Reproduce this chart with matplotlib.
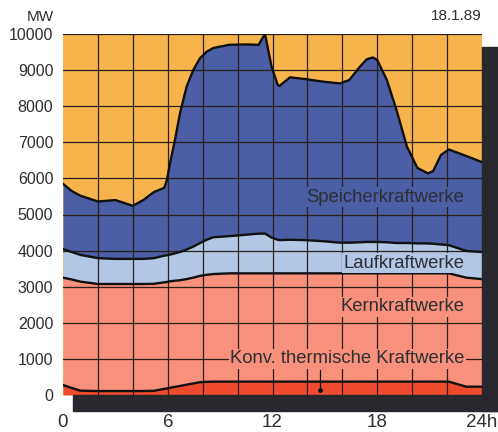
import numpy as np
import matplotlib.pyplot as plt
from matplotlib.patches import Rectangle

plt.rcParams['font.family'] = ['Liberation Sans', 'DejaVu Sans']

# hours of day
hours = [0, 0.5, 1, 2, 3, 4, 4.6, 5.2, 5.8, 5.95, 6.13, 6.41, 6.7, 7.08, 7.46, 7.85, 8.23, 8.6, 9.5, 10.5,
         11.2, 11.57, 11.95, 12.3, 12.4, 13, 13.9, 14.9, 15.85, 16.4, 17, 17.4,
         17.75, 18, 18.55, 19.1, 19.7, 20.3, 20.9, 21.2, 21.65, 22.1, 23.1, 24]

# cumulative upper edges in MW
konv_top = [277, 194, 120, 110, 110, 110, 110, 115, 170, 180, 200, 225, 250, 285, 320, 355, 365, 370, 370, 370,
            370, 370, 370, 370, 370, 370, 370, 370, 370, 370, 370, 370,
            370, 370, 370, 370, 370, 370, 370, 370, 370, 370, 230, 230]
kern_top = [3250, 3200, 3140, 3075, 3075, 3075, 3075, 3080, 3120, 3130, 3150, 3165, 3180, 3210, 3250, 3300, 3330, 3350, 3370, 3370,
            3370, 3370, 3370, 3370, 3370, 3370, 3370, 3370, 3370, 3370, 3370, 3370,
            3370, 3370, 3370, 3370, 3370, 3370, 3370, 3370, 3370, 3370, 3250, 3210]
lauf_top = [4045, 3960, 3880, 3790, 3770, 3770, 3770, 3790, 3860, 3870, 3890, 3925, 3960, 4030, 4110, 4210, 4300, 4370, 4400, 4440,
            4470, 4470, 4360, 4300, 4290, 4300, 4290, 4260, 4220, 4220, 4230, 4240,
            4240, 4240, 4230, 4210, 4210, 4200, 4200, 4190, 4170, 4150, 3990, 3960]
total = [5850, 5650, 5520, 5360, 5400, 5240, 5400, 5620, 5740, 5955, 6420, 7060, 7800, 8540, 9000, 9330, 9510, 9610, 9700, 9710,
         9700, 10000, 9090, 8590, 8560, 8800, 8750, 8680, 8630, 8725, 9090, 9300,
         9350, 9280, 8725, 7900, 6880, 6290, 6140, 6200, 6650, 6800, 6620, 6450]

x_ticks = [0, 6, 12, 18, 24]
x_labels = ['0', '6', '12', '18', '24h']
y_ticks = [0, 1000, 2000, 3000, 4000, 5000, 6000, 7000, 8000, 9000, 10000]

c_orange = '#f8b44c'
c_speicher = '#4b5ea6'
c_lauf = '#b3c7e5'
c_kern = '#f8917b'
c_konv = '#ee4a2e'
c_dark = '#27272d'
c_text = '#2e2e33'

fig = plt.figure(figsize=(4.98, 4.32), dpi=100)
ax = fig.add_axes([63 / 498, 1 - 395 / 432, 419 / 498, 361 / 432])

# shadow behind the chart
fig.patches.append(Rectangle((482 / 498, 1 - 411 / 432), 16 / 498, 364 / 432,
                             transform=fig.transFigure, color=c_dark, zorder=0))
fig.patches.append(Rectangle((73 / 498, 1 - 411 / 432), 425 / 498, 16 / 432,
                             transform=fig.transFigure, color=c_dark, zorder=0))

ax.set_facecolor(c_orange)
zero = np.zeros(len(hours))
ax.fill_between(hours, zero, konv_top, color=c_konv, lw=0, zorder=1)
ax.fill_between(hours, konv_top, kern_top, color=c_kern, lw=0, zorder=1)
ax.fill_between(hours, kern_top, lauf_top, color=c_lauf, lw=0, zorder=1)
ax.fill_between(hours, lauf_top, total, color=c_speicher, lw=0, zorder=1)

# grid
for h in range(2, 24, 2):
    ax.axvline(h, color='#2a2018', lw=0.9, zorder=2)
for v in range(1000, 10001, 1000):
    ax.axhline(v, color='#2a2018', lw=0.9, zorder=2)

for s in [konv_top, kern_top, lauf_top, total]:
    ax.plot(hours, s, color='#111111', lw=1.7, zorder=3)

ax.set_xlim(0, 24)
ax.set_ylim(0, 10000)
for sp in ax.spines.values():
    sp.set_visible(False)

ax.set_xticks(x_ticks)
ax.set_xticklabels(x_labels, fontsize=13.5, color=c_text)
ax.set_yticks(y_ticks)
ax.set_yticklabels([str(v) for v in y_ticks], fontsize=11.5, color=c_text)
ax.tick_params(axis='x', length=0, pad=14)
ax.tick_params(axis='y', length=0, pad=7)

fig.text(40 / 498, 1 - 17 / 432, 'MW', ha='center', va='center', fontsize=11, color=c_text)
fig.text(482 / 498, 1 - 16 / 432, '18.1.89', ha='right', va='center', fontsize=11, color=c_text)

lbl = dict(ha='right', va='center', fontsize=13.3, color=c_text, zorder=4)
ax.text(23.0, 5480, 'Speicherkraftwerke',
        bbox=dict(facecolor=c_speicher, edgecolor='none', pad=1), **lbl)
ax.text(23.0, 3650, 'Laufkraftwerke',
        bbox=dict(facecolor=c_lauf, edgecolor='none', pad=1), **lbl)
ax.text(23.0, 2440, 'Kernkraftwerke',
        bbox=dict(facecolor=c_kern, edgecolor='none', pad=1), **lbl)
ax.text(23.0, 1000, 'Konv. thermische Kraftwerke',
        bbox=dict(facecolor=c_kern, edgecolor='none', pad=1), **lbl)
ax.plot([14.7, 14.7], [680, 150], color='#111111', lw=0.9, zorder=4)
ax.plot([14.7], [150], 'o', color='#111111', ms=2.5, zorder=4)

fig.savefig('out.png', dpi=100)
